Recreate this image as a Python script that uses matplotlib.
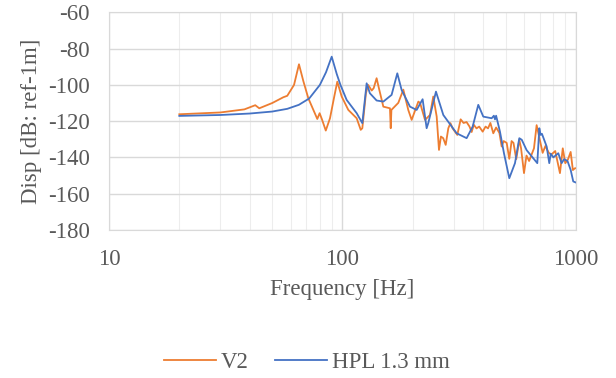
import numpy as np
import matplotlib
matplotlib.use("Agg")
import matplotlib.pyplot as plt
from matplotlib.ticker import FixedLocator, NullFormatter

# V2 (naranja)
v2_freq = [20, 30, 38, 42.3, 44, 50, 55.8, 58, 62, 65.1, 68, 71.4, 78, 79.8, 81.6, 84.8,
           88.4, 92, 95, 99.2, 105.9, 115, 119.7, 121.6, 126, 128.8, 133.4, 136, 140,
           143.2, 149.6, 159.7, 160.9, 162, 173.4, 182.2, 191.3, 197.8, 211.3, 215,
           225.6, 237, 244.8, 253.2, 259, 264, 270, 276.7, 284, 290, 296, 310.3, 320.7,
           330, 340, 350, 357.5, 365, 375, 385, 398.5, 410, 420, 430, 442.5, 455, 470,
           480.6, 490, 505, 518.1, 530, 540, 555, 572, 582, 599, 614, 630, 661, 678.5,
           700, 720, 740, 765, 785, 815, 854, 878, 900, 925, 949, 970, 990, 1000]
v2_disp = [-116.2, -115.2, -113.5, -111.2, -112.9, -110, -106.8, -106, -100, -88.6, -98,
           -107.4, -118.8, -115.6, -118.9, -125.2, -118.4, -107, -98.2, -106.4, -113.8,
           -118.4, -124.8, -123.9, -104.6, -100, -103.1, -101.8, -96.3, -101.8, -112,
           -112.9, -123.9, -113.8, -109.9, -102.6, -113.8, -119.3, -109.2, -110, -119.3,
           -116.6, -106.4, -117.5, -135.9, -128.5, -129.4, -133.1, -123.9, -121.1, -123.9,
           -127.6, -119, -121, -120.5, -123, -126, -122, -124, -123, -125.8, -123, -124,
           -121, -126.7, -123.5, -126.5, -134, -131, -132, -140.8, -131, -132, -141,
           -130.3, -135, -148.7, -139, -142, -135, -122.2, -130.3, -137.5, -133.7, -137.5,
           -138.4, -136.5, -148.7, -135, -143.2, -141, -137, -147, -146, -146]

# HPL 1.3 mm (azul)
hpl_freq = [20, 30, 40, 50, 58, 65, 72, 80, 85, 89.9, 94.5, 98, 104.2, 115, 121.6, 126.9,
            131, 140, 149.6, 162.3, 171.7, 179.2, 194.6, 207.8, 220.4, 229.3, 233, 251.4,
            270.3, 308.3, 340.2, 361, 381.6, 400.9, 435.4, 445, 450, 455, 472.6, 491.6,
            518.1, 548, 571.9, 586, 614.6, 683, 696.6, 706, 715, 749, 768.6, 780, 800,
            840, 868, 890, 920, 949, 973.6, 1000]
hpl_disp = [-117.1, -116.6, -115.8, -114.7, -113.2, -111, -107.5, -100, -93, -84.4, -94,
            -100, -108.3, -115.6, -121.1, -99.1, -104.6, -108.6, -109.2, -105.5, -93.6,
            -102.8, -112, -113.8, -107.9, -123.9, -121.1, -103.7, -116.6, -126.7, -129.4,
            -123, -111, -117.5, -118.4, -117, -119, -117, -125.8, -137.7, -151.5, -143.2,
            -129.4, -130.3, -136, -143.2, -123.9, -127.6, -127, -134, -143.2, -138, -140,
            -137.7, -143.2, -141, -142, -146.9, -153.3, -153.9]

y_ticks = [-60, -80, -100, -120, -140, -160, -180]

plt.rcParams['font.family'] = ['Liberation Serif', 'DejaVu Serif']
plt.rcParams['axes.unicode_minus'] = False
txt = '#595959'
fs = 16.5

fig = plt.figure(figsize=(6.16, 3.78), dpi=100)
ax = fig.add_axes([0.177, 0.392, 0.758, 0.575])

ax.plot(v2_freq, v2_disp, color='#ED7D31', lw=1.3, label='V2')
ax.plot(hpl_freq, hpl_disp, color='#4472C4', lw=1.3, label='HPL 1.3 mm')

ax.set_xscale('log')
ax.set_xlim(10, 1000)
ax.set_ylim(-180, -60)
ax.set_yticks(y_ticks)
ax.set_xticks([10, 100, 1000])
ax.set_xticklabels(['10', '100', '1000'])
ax.xaxis.set_minor_locator(FixedLocator([v * d for d in (10, 100) for v in range(2, 10)]))
ax.xaxis.set_minor_formatter(NullFormatter())

ax.grid(True, which='major', color='#D9D9D9', lw=1.0)
ax.grid(True, which='minor', axis='x', color='#EDEDED', lw=0.8)
ax.set_axisbelow(True)
for s in ax.spines.values():
    s.set_color('#D9D9D9')
ax.tick_params(which='both', length=0, labelsize=fs, colors=txt)
ax.tick_params(axis='y', pad=14)
ax.tick_params(axis='x', pad=14)

ax.set_xlabel('Frequency [Hz]', fontsize=fs, color=txt, labelpad=6)
ax.set_ylabel('Disp [dB: ref-1m]', fontsize=fs, color=txt, labelpad=4)

fig.legend(loc='center', bbox_to_anchor=(0.498, 0.042), ncol=2, frameon=False,
           fontsize=fs, labelcolor=txt, handlelength=2.27, handletextpad=0.22,
           columnspacing=1.13)

fig.savefig('out.png', dpi=100)
